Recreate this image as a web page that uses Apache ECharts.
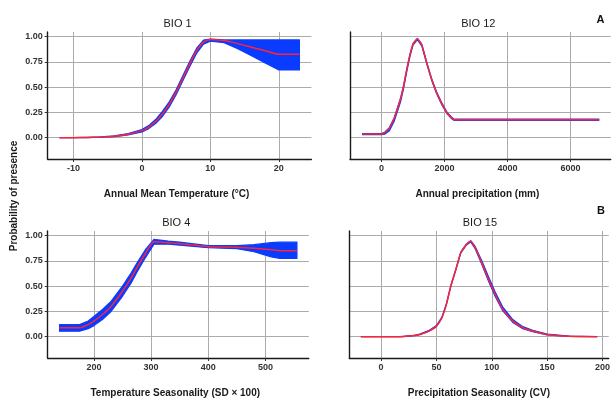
<!DOCTYPE html>
<html><head><meta charset="utf-8">
<script src="https://cdn.jsdelivr.net/npm/echarts@6/dist/echarts.min.js"></script>
<style>html,body{margin:0;padding:0;background:#fff}#c{width:613px;height:400px}</style>
</head><body><div id="c"></div>
<script>
// ---- BIO 1 : Annual Mean Temperature
const bio1X = [-12, -10, -8, -6, -4, -2, 0, 1, 2, 3, 4, 5, 6, 7, 8, 9, 10, 12, 14, 16, 18, 20, 23];
const bio1Mean = [0.000, 0.001, 0.003, 0.007, 0.015, 0.035, 0.070, 0.105, 0.160, 0.235, 0.330, 0.450, 0.590, 0.730, 0.860, 0.945, 0.972, 0.960, 0.930, 0.895, 0.860, 0.825, 0.825];
const bio1Low  = [0.000, 0.000, 0.002, 0.005, 0.012, 0.028, 0.058, 0.090, 0.140, 0.210, 0.305, 0.425, 0.565, 0.705, 0.835, 0.925, 0.955, 0.940, 0.880, 0.810, 0.740, 0.670, 0.670];
const bio1High = [0.000, 0.002, 0.005, 0.010, 0.019, 0.042, 0.082, 0.120, 0.180, 0.260, 0.355, 0.475, 0.615, 0.755, 0.885, 0.965, 0.975, 0.967, 0.967, 0.967, 0.967, 0.967, 0.967];
const bio1Ticks = [-10, 0, 10, 20];

// ---- BIO 12 : Annual precipitation
const bio12X = [-600, 0, 100, 250, 400, 600, 700, 800, 900, 1000, 1140, 1280, 1440, 1600, 1750, 1900, 2080, 2230, 2300, 6900];
const bio12Mean = [0.036, 0.036, 0.050, 0.095, 0.190, 0.380, 0.510, 0.670, 0.815, 0.925, 0.977, 0.915, 0.735, 0.570, 0.445, 0.345, 0.245, 0.195, 0.178, 0.178];
const bio12Low  = [0.030, 0.030, 0.035, 0.070, 0.160, 0.350, 0.485, 0.650, 0.800, 0.915, 0.970, 0.905, 0.725, 0.560, 0.435, 0.335, 0.237, 0.188, 0.172, 0.172];
const bio12High = [0.042, 0.042, 0.055, 0.100, 0.195, 0.385, 0.515, 0.675, 0.820, 0.930, 0.982, 0.922, 0.742, 0.577, 0.452, 0.352, 0.252, 0.202, 0.184, 0.184];
const bio12Ticks = [0, 2000, 4000, 6000];

// ---- BIO 4 : Temperature Seasonality
const bio4X = [140, 175, 190, 200, 215, 230, 250, 265, 275, 290, 305, 330, 350, 400, 450, 480, 510, 525, 555];
const bio4Mean = [0.088, 0.088, 0.120, 0.155, 0.220, 0.300, 0.450, 0.580, 0.680, 0.820, 0.940, 0.930, 0.920, 0.890, 0.885, 0.875, 0.860, 0.850, 0.850];
const bio4Low  = [0.055, 0.055, 0.080, 0.110, 0.170, 0.250, 0.400, 0.530, 0.635, 0.780, 0.915, 0.915, 0.905, 0.880, 0.870, 0.840, 0.790, 0.775, 0.775];
const bio4High = [0.120, 0.120, 0.155, 0.200, 0.270, 0.350, 0.500, 0.630, 0.725, 0.860, 0.962, 0.945, 0.935, 0.900, 0.900, 0.910, 0.930, 0.935, 0.935];
const bio4Ticks = [200, 300, 400, 500];

// ---- BIO 15 : Precipitation Seasonality
const bio15X = [-18, 0, 20, 30, 35, 43, 50, 55, 59, 63, 68, 72, 77, 81, 85, 91, 97, 103, 110, 119, 128, 137, 150, 170, 195];
const bio15Mean = [0.000, 0.000, 0.003, 0.012, 0.023, 0.056, 0.105, 0.190, 0.320, 0.500, 0.680, 0.830, 0.910, 0.944, 0.880, 0.730, 0.570, 0.420, 0.270, 0.154, 0.089, 0.056, 0.022, 0.005, 0.001];
const bio15Low  = [0.000, 0.000, 0.002, 0.010, 0.020, 0.052, 0.100, 0.185, 0.315, 0.495, 0.675, 0.825, 0.905, 0.938, 0.870, 0.715, 0.550, 0.400, 0.255, 0.142, 0.080, 0.050, 0.019, 0.004, 0.000];
const bio15High = [0.000, 0.001, 0.004, 0.014, 0.026, 0.060, 0.110, 0.195, 0.325, 0.505, 0.685, 0.835, 0.915, 0.950, 0.892, 0.750, 0.595, 0.445, 0.292, 0.170, 0.100, 0.064, 0.027, 0.007, 0.002];
const bio15Ticks = [0, 50, 100, 150, 200];

const yTicks = [0, 0.25, 0.5, 0.75, 1.0];
const panelTitles = ['BIO 1', 'BIO 12', 'BIO 4', 'BIO 15'];
const xTitles = ['Annual Mean Temperature (\u00B0C)', 'Annual precipitation (mm)', 'Temperature Seasonality (SD \u00D7 100)', 'Precipitation Seasonality (CV)'];
const yTitle = 'Probability of presence';
const tags = ['A', 'B'];

const panels = [
  {x: bio1X, m: bio1Mean, l: bio1Low, u: bio1High, ticks: bio1Ticks, min: -13.75, max: 24.75},
  {x: bio12X, m: bio12Mean, l: bio12Low, u: bio12High, ticks: bio12Ticks, min: -1000, max: 7275},
  {x: bio4X, m: bio4Mean, l: bio4Low, u: bio4High, ticks: bio4Ticks, min: 119.25, max: 575.75},
  {x: bio15X, m: bio15Mean, l: bio15Low, u: bio15High, ticks: bio15Ticks, min: -28.65, max: 205.65}
];
const grids = [
  {left: 47.7, top: 32, width: 263.7, height: 127},
  {left: 350, top: 32, width: 260.7, height: 127},
  {left: 47.7, top: 231, width: 261.1, height: 127},
  {left: 349.3, top: 231, width: 265.2, height: 127}
];
const FONT = '"Liberation Sans", Arial, sans-serif';
const BLUE = '#0a3cff', RED = '#ff2433', GRIDC = '#ababab';

const xAxes = [], yAxes = [], series = [], graphics = [];
panels.forEach((p, i) => {
  xAxes.push({
    type: 'value', gridIndex: i, min: p.min, max: p.max,
    axisLine: {show: true, onZero: false, lineStyle: {color: '#1a1a1a', width: 1.4}},
    axisTick: {show: true, length: 3, customValues: p.ticks, lineStyle: {color: '#333'}},
    axisLabel: {customValues: p.ticks, formatter: v => String(v), fontFamily: FONT, fontSize: 9, fontWeight: 'bold', color: '#333', margin: 5},
    splitLine: {show: true, lineStyle: {color: GRIDC, width: 1}}
  });
  const left = (i % 2 === 0);
  yAxes.push({
    type: 'value', gridIndex: i, min: -0.21, max: 1.045,
    axisLine: {show: true, onZero: false, lineStyle: {color: '#1a1a1a', width: 1.4}},
    axisTick: {show: left, length: 3, customValues: yTicks, lineStyle: {color: '#333'}},
    axisLabel: {show: left, customValues: yTicks, formatter: v => v.toFixed(2), fontFamily: FONT, fontSize: 9, fontWeight: 'bold', color: '#333', margin: 5},
    splitLine: {show: true, lineStyle: {color: GRIDC, width: 1}}
  });
  // confidence ribbon drawn through the axis scales
  series.push({
    type: 'custom', xAxisIndex: i, yAxisIndex: i, data: [[p.x[0], p.l[0]]], silent: true, z: 2,
    renderItem: (params, api) => {
      const pts = [];
      for (let k = 0; k < p.x.length; k++) pts.push(api.coord([p.x[k], p.u[k]]));
      for (let k = p.x.length - 1; k >= 0; k--) pts.push(api.coord([p.x[k], p.l[k]]));
      return {type: 'polygon', shape: {points: pts}, style: {fill: BLUE, stroke: BLUE, lineWidth: 1.2, lineJoin: 'round'}};
    }
  });
  series.push({type: 'line', xAxisIndex: i, yAxisIndex: i, data: p.x.map((x, k) => [x, p.m[k]]), symbol: 'none', smooth: 0.2,
    lineStyle: {color: RED, width: 1.5}, z: 4, silent: true});
  const g = grids[i];
  const cx = g.left + g.width / 2;
  graphics.push({type: 'text', x: cx - 2, y: g.top - 8,
    style: {text: panelTitles[i], font: '11px ' + FONT, fill: '#1a1a1a', align: 'center', verticalAlign: 'middle'}});
  graphics.push({type: 'text', x: cx - 3, y: g.top + g.height + 35,
    style: {text: xTitles[i], font: 'bold 10px ' + FONT, fill: '#1a1a1a', align: 'center', verticalAlign: 'middle'}});
});
graphics.push({type: 'text', x: 14, y: 196, rotation: Math.PI / 2,
  style: {text: yTitle, font: 'bold 10px ' + FONT, fill: '#1a1a1a', align: 'center', verticalAlign: 'middle'}});
graphics.push({type: 'text', x: 600.5, y: 19.5, style: {text: tags[0], font: 'bold 11px ' + FONT, fill: '#111', align: 'center', verticalAlign: 'middle'}});
graphics.push({type: 'text', x: 601, y: 211, style: {text: tags[1], font: 'bold 11px ' + FONT, fill: '#111', align: 'center', verticalAlign: 'middle'}});

const chart = echarts.init(document.getElementById('c'), null, {renderer: 'canvas'});
chart.setOption({
  animation: false,
  backgroundColor: '#fff',
  grid: grids,
  xAxis: xAxes,
  yAxis: yAxes,
  series: series,
  graphic: graphics
});
</script></body></html>
